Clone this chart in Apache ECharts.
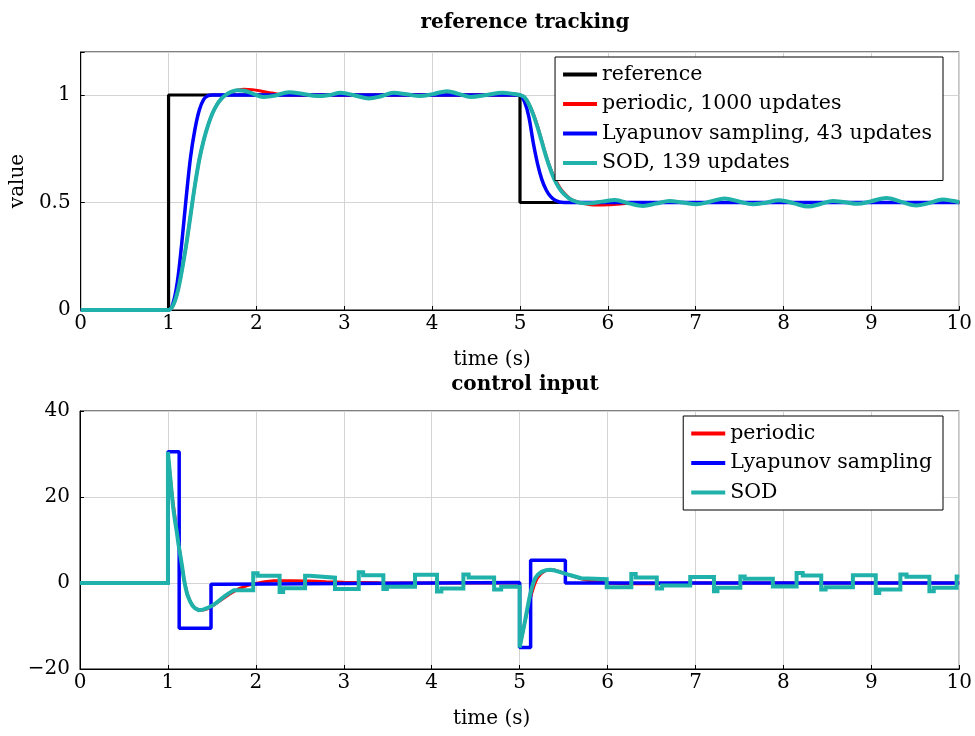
<!DOCTYPE html>
<html>
<head>
<meta charset="utf-8">
<script src="https://cdn.jsdelivr.net/npm/echarts@6/dist/echarts.min.js"></script>
<style>
  html, body { margin: 0; padding: 0; background: #fff; }
  #chart { width: 975px; height: 736px; }
</style>
</head>
<body>
<div id="chart"></div>
<script>
// ---- reference tracking: [time (s), value] ----
const refTrack = [[0,0],[1,0],[1,1],[5,1],[5,0.5],[10,0.5]];

const periodicTrack = [[0,0],[1,0],[1.05,0.02],[1.1,0.08],[1.15,0.18],[1.2,0.30],[1.25,0.44],[1.3,0.58],[1.35,0.70],[1.4,0.79],[1.45,0.86],[1.5,0.915],[1.55,0.955],[1.6,0.982],[1.65,1.0],[1.7,1.012],[1.78,1.022],[1.86,1.027],[1.95,1.025],[2.05,1.019],[2.15,1.011],[2.25,1.004],[2.4,1.0],[2.6,0.999],[4.95,1.0],[5.0,1.0],[5.05,0.99],[5.1,0.96],[5.15,0.915],[5.2,0.855],[5.25,0.785],[5.3,0.715],[5.35,0.655],[5.4,0.61],[5.45,0.572],[5.5,0.545],[5.55,0.525],[5.6,0.511],[5.7,0.497],[5.8,0.49],[5.9,0.488],[6.0,0.489],[6.1,0.492],[6.2,0.495],[6.35,0.498],[6.6,0.5],[10,0.5]];

const lyapunovTrack = [[0,0],[1,0],[1.05,0.03],[1.1,0.13],[1.15,0.31],[1.2,0.52],[1.25,0.71],[1.3,0.84],[1.35,0.93],[1.4,0.98],[1.45,0.997],[1.5,1.0],[1.6,1.0],[4.95,1.0],[5.0,1.0],[5.05,0.97],[5.1,0.90],[5.15,0.78],[5.2,0.68],[5.25,0.605],[5.3,0.557],[5.35,0.527],[5.4,0.51],[5.45,0.502],[5.5,0.5],[5.6,0.5],[10,0.5]];

const sodTrack = [[0,0],[1,0],[1.05,0.02],[1.1,0.08],[1.15,0.18],[1.2,0.30],[1.25,0.44],[1.3,0.58],[1.35,0.70],[1.4,0.79],[1.45,0.86],[1.5,0.915],[1.55,0.955],[1.6,0.982],[1.65,1.0],[1.7,1.012],[1.78,1.022],[1.86,1.02],[1.95,1.008],[2.08,0.991],[2.2,0.996],[2.37,1.013],[2.52,1.006],[2.69,0.995],[2.82,0.999],[2.96,1.01],[3.12,0.998],[3.28,0.984],[3.42,0.994],[3.56,1.01],[3.71,1.003],[3.86,0.995],[4.01,1.004],[4.17,1.018],[4.3,1.005],[4.44,0.991],[4.62,1.0],[4.8,1.01],[4.93,1.005],[5.0,1.0],[5.05,0.99],[5.1,0.958],[5.15,0.91],[5.2,0.85],[5.25,0.78],[5.3,0.71],[5.35,0.65],[5.4,0.60],[5.45,0.565],[5.5,0.54],[5.55,0.522],[5.6,0.51],[5.7,0.498],[5.8,0.497],[5.93,0.504],[6.08,0.512],[6.24,0.496],[6.4,0.484],[6.55,0.495],[6.7,0.507],[6.85,0.5],[7.01,0.492],[7.17,0.505],[7.33,0.519],[7.49,0.505],[7.65,0.492],[7.8,0.499],[7.95,0.511],[8.12,0.496],[8.28,0.481],[8.42,0.493],[8.56,0.507],[8.7,0.501],[8.84,0.494],[9.0,0.506],[9.17,0.521],[9.34,0.503],[9.51,0.486],[9.66,0.498],[9.81,0.514],[9.92,0.508],[10,0.501]];

// ---- control input: [time (s), u] ----
const periodicInput = [[0,0],[1,0],[1,30],[1.02,26],[1.05,20],[1.1,12.3],[1.15,5.2],[1.185,0.5],[1.22,-2.5],[1.26,-4.6],[1.3,-5.7],[1.35,-6.3],[1.4,-6.3],[1.45,-6.0],[1.5,-5.4],[1.55,-4.7],[1.6,-4.0],[1.7,-2.6],[1.8,-1.4],[1.9,-0.6],[2.0,-0.1],[2.1,0.3],[2.2,0.5],[2.4,0.55],[2.6,0.45],[2.8,0.3],[3.0,0.2],[3.4,0.05],[4,0],[5,0],[5,-15],[5.02,-13],[5.05,-10],[5.08,-7.2],[5.11,-4.6],[5.14,-2.2],[5.17,-0.3],[5.2,1.1],[5.25,2.3],[5.3,2.9],[5.35,3.1],[5.4,3.0],[5.45,2.7],[5.5,2.3],[5.6,1.6],[5.7,1.0],[5.8,0.5],[5.9,0.2],[6.0,0],[6.2,-0.2],[6.5,-0.15],[7,0],[10,0]];

// Lyapunov sampling: input updates, held until the next one
const lyapunovInput = [[0,0],[1,30.5],[1.128,-10.5],[1.49,-0.3],[1.61,0.1],[5.0,-15],[5.125,5.3],[5.52,0],[10,0]];

// SOD: dense updates right after each reference step, sparse held updates otherwise
const sodBurst1 = [[0,0],[1.0,0],[1.0,30.5],[1.02,26],[1.04,21.5],[1.06,17.5],[1.08,14.5],[1.10,12],[1.12,9],[1.14,6.5],[1.16,4],[1.18,1.2],[1.20,-1],[1.22,-2.7],[1.25,-4.2],[1.28,-5.3],[1.31,-5.9],[1.35,-6.3],[1.40,-6.2],[1.45,-5.8],[1.50,-5.3],[1.55,-4.6],[1.60,-3.8],[1.65,-3.0],[1.70,-2.3],[1.75,-1.7]];
const sodHeld1 = [[1.97,2.25],[2.02,1.7],[2.27,-2.1],[2.31,-1.2],[2.56,1.7],[2.61,1.24],[2.90,-1.4],[3.17,2.5],[3.22,1.8],[3.45,-1.4],[3.49,-0.9],[3.81,1.9],[4.06,-2.0],[4.11,-1.3],[4.36,2.0],[4.42,1.3],[4.71,-1.5],[4.79,-0.9]];
const sodBurst2 = [[5.0,-15],[5.02,-13],[5.04,-11],[5.06,-9],[5.08,-6.8],[5.10,-4.6],[5.12,-2.6],[5.14,-1],[5.16,0.3],[5.18,1.2],[5.21,2.0],[5.25,2.6],[5.30,3.0],[5.35,3.1],[5.40,2.9],[5.45,2.6],[5.50,2.3],[5.57,1.85],[5.64,1.45],[5.70,1.1]];
const sodHeld2 = [[5.72,0.9],[5.99,-1.0],[6.27,2.1],[6.32,1.3],[6.56,-1.3],[6.62,-0.6],[6.94,1.4],[7.21,-1.9],[7.25,-1.1],[7.51,1.5],[7.56,1.0],[7.88,-0.8],[8.15,2.3],[8.22,1.75],[8.43,-1.5],[8.48,-1.0],[8.79,1.8],[9.05,-2.3],[9.09,-1.5],[9.33,2.0],[9.40,1.45],[9.66,-1.9],[9.71,-1.1],[9.97,1.5]];

const topTicks = [0, 0.5, 1];

// build one polyline: continuous pieces as-is, held pieces as vertical jumps
function joinPieces(pieces, tEnd) {
  const out = [];
  pieces.forEach(p => {
    p.points.forEach(([t, u]) => {
      if (p.held && out.length) out.push([t, out[out.length - 1][1]]);
      out.push([t, u]);
    });
  });
  out.push([tEnd, out[out.length - 1][1]]);
  return out;
}
const sodInput = joinPieces([
  { points: sodBurst1, held: false },
  { points: sodHeld1, held: true },
  { points: sodBurst2.slice(0, 1), held: true },
  { points: sodBurst2.slice(1), held: false },
  { points: sodHeld2, held: true }
], 10);

const FONT = 'DejaVu Serif';
const RED = '#ff0000', BLUE = '#0000ff', TEAL = '#20b2aa';

const chart = echarts.init(document.getElementById('chart'), null, { renderer: 'canvas' });

const labelStyle = { fontFamily: FONT, fontSize: 20, color: '#000' };
const minus = v => String(v).replace('-', '\u2212');

function xAxis(grid) {
  return {
    gridIndex: grid, type: 'value', min: 0, max: 10, interval: 1,
    axisLine: { show: true, onZero: false, lineStyle: { color: '#000', width: 1 } },
    axisTick: { show: true, inside: true, length: 4, lineStyle: { color: '#000' } },
    axisLabel: Object.assign({ margin: 4, formatter: minus }, labelStyle),
    splitLine: { show: true, lineStyle: { color: '#d4d4d4', width: 1 } },
    name: 'time (s)', nameLocation: 'middle', nameGap: 40,
    nameTextStyle: Object.assign({ padding: [0, 56, 0, 0] }, labelStyle)
  };
}

const legendBase = {
  orient: 'vertical', right: 32,
  backgroundColor: '#fff', borderColor: '#000', borderWidth: 1, borderRadius: 0,
  padding: [7, 11, 7, 8], itemGap: 8.5, itemWidth: 34, itemHeight: 4, icon: 'rect',
  selectedMode: false,
  textStyle: { fontFamily: FONT, fontSize: 20.5, color: '#000', lineHeight: 20 }
};

const option = {
  animation: false,
  backgroundColor: '#fff',
  title: [
    { text: 'reference tracking', left: 520, top: 8, textAlign: 'center',
      textStyle: { fontFamily: FONT, fontSize: 20, fontWeight: 'bold', color: '#000' } },
    { text: 'control input', left: 520, top: 370, textAlign: 'center',
      textStyle: { fontFamily: FONT, fontSize: 20, fontWeight: 'bold', color: '#000' } }
  ],
  grid: [
    { left: 80, right: 15, top: 52, height: 258, show: true, borderColor: '#000', borderWidth: 1, backgroundColor: 'transparent' },
    { left: 80, right: 15, top: 411, height: 258, show: true, borderColor: '#000', borderWidth: 1, backgroundColor: 'transparent' }
  ],
  xAxis: [xAxis(0), xAxis(1)],
  yAxis: [
    { gridIndex: 0, type: 'value', min: 0, max: 1.2, interval: 0.5,
      axisLine: { show: true, lineStyle: { color: '#000' } },
      axisTick: { show: true, inside: true, length: 4, lineStyle: { color: '#000' } },
      axisLabel: Object.assign({ margin: 10,
        formatter: v => (topTicks.some(t => Math.abs(t - v) < 1e-9) ? String(+(+v).toFixed(1)) : '') }, labelStyle),
      splitLine: { show: true, lineStyle: { color: '#d4d4d4', width: 1 } },
      name: 'value', nameLocation: 'middle', nameGap: 47, nameRotate: 90,
      nameTextStyle: labelStyle },
    { gridIndex: 1, type: 'value', min: -20, max: 40, interval: 20,
      axisLine: { show: true, lineStyle: { color: '#000' } },
      axisTick: { show: true, inside: true, length: 4, lineStyle: { color: '#000' } },
      axisLabel: Object.assign({ margin: 10, formatter: minus }, labelStyle),
      splitLine: { show: true, lineStyle: { color: '#d4d4d4', width: 1 } } }
  ],
  legend: [
    Object.assign({}, legendBase, { top: 57,
      data: ['reference', 'periodic, 1000 updates', 'Lyapunov sampling, 43 updates', 'SOD, 139 updates'] }),
    Object.assign({}, legendBase, { top: 416,
      data: ['periodic', 'Lyapunov sampling', 'SOD'] })
  ],
  series: [
    { name: 'reference', type: 'line', xAxisIndex: 0, yAxisIndex: 0, data: refTrack,
      symbol: 'none', color: '#000', lineStyle: { color: '#000', width: 3.2 } },
    { name: 'periodic, 1000 updates', type: 'line', xAxisIndex: 0, yAxisIndex: 0, data: periodicTrack,
      symbol: 'none', smooth: 0.35, color: RED, lineStyle: { color: RED, width: 3 } },
    { name: 'Lyapunov sampling, 43 updates', type: 'line', xAxisIndex: 0, yAxisIndex: 0, data: lyapunovTrack,
      symbol: 'none', smooth: 0.35, color: BLUE, lineStyle: { color: BLUE, width: 3.5 } },
    { name: 'SOD, 139 updates', type: 'line', xAxisIndex: 0, yAxisIndex: 0, data: sodTrack,
      symbol: 'none', smooth: 0.35, color: TEAL, lineStyle: { color: TEAL, width: 4 } },

    { name: 'periodic', type: 'line', xAxisIndex: 1, yAxisIndex: 1, data: periodicInput,
      symbol: 'none', color: RED, lineStyle: { color: RED, width: 3 } },
    { name: 'Lyapunov sampling', type: 'line', xAxisIndex: 1, yAxisIndex: 1, data: lyapunovInput,
      step: 'end', symbol: 'none', color: BLUE, lineStyle: { color: BLUE, width: 3.5 } },
    { name: 'SOD', type: 'line', xAxisIndex: 1, yAxisIndex: 1, data: sodInput,
      symbol: 'none', color: TEAL, lineStyle: { color: TEAL, width: 4, join: 'miter', miterLimit: 1.5 } }
  ]
};

chart.setOption(option);
</script>
</body>
</html>
